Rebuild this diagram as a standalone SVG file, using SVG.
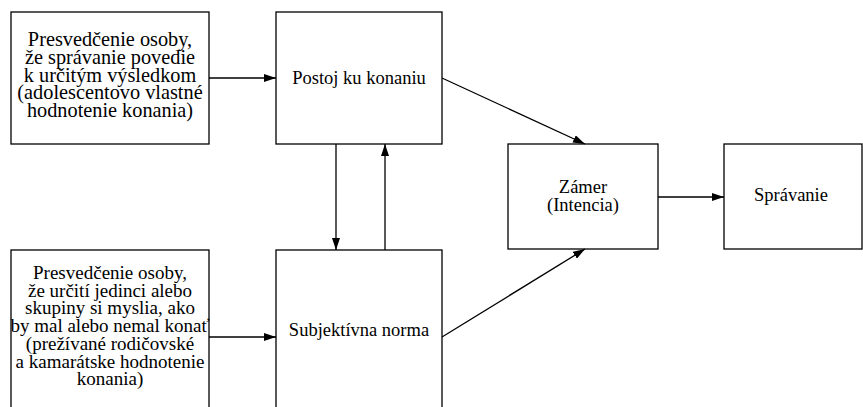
<svg xmlns="http://www.w3.org/2000/svg" width="863" height="407" viewBox="0 0 863 407">
<style>
.box{fill:#fff;stroke:#000;stroke-width:1.3}
.t{font-family:"Liberation Serif","Times New Roman",serif;font-size:18.5px;fill:#000;text-anchor:middle}
.ta{font-size:20.3px}
.tb{font-size:19px}
.c{stroke:#000;stroke-width:1.3;fill:none;marker-end:url(#ah)}
</style>
<defs>
<marker id="ah" viewBox="0 0 12 8" refX="12" refY="4" markerWidth="12" markerHeight="8" markerUnits="userSpaceOnUse" orient="auto">
<path d="M0,0 L12,4 L0,8 Z" fill="#000"/>
</marker>
</defs>
<rect width="863" height="407" fill="#fff"/>
<g id="belief-attitude">
<rect class="box" x="11" y="12" width="198" height="132"/>
<text class="t ta"><tspan x="110" y="46">Presvedčenie osoby,</tspan><tspan x="110" y="63.8">že správanie povedie</tspan><tspan x="110" y="81.6">k určitým výsledkom</tspan><tspan x="110" y="99.4">(adolescentovo vlastné</tspan><tspan x="110" y="117.2">hodnotenie konania)</tspan></text>
</g>
<g id="belief-norm">
<rect class="box" x="11" y="250" width="198" height="170"/>
<text class="t tb"><tspan x="110" y="279">Presvedčenie osoby,</tspan><tspan x="110" y="296.7">že určití jedinci alebo</tspan><tspan x="110" y="314.4">skupiny si myslia, ako</tspan><tspan x="110" y="332.1">by mal alebo nemal konať</tspan><tspan x="110" y="349.8">(prežívané rodičovské</tspan><tspan x="110" y="367.5">a kamarátske hodnotenie</tspan><tspan x="110" y="385.2">konania)</tspan></text>
</g>
<g id="attitude">
<rect class="box" x="276" y="12" width="166" height="132"/>
<text class="t" x="359" y="84">Postoj ku konaniu</text>
</g>
<g id="norm">
<rect class="box" x="276" y="250" width="166" height="170"/>
<text class="t" x="359" y="336">Subjektívna norma</text>
</g>
<g id="intention">
<rect class="box" x="508" y="144" width="150" height="105"/>
<text class="t"><tspan x="583" y="193">Zámer</tspan><tspan x="583" y="211">(Intencia)</tspan></text>
</g>
<g id="behavior">
<rect class="box" x="724" y="144" width="138" height="105"/>
<text class="t" x="791" y="201">Správanie</text>
</g>
<g id="connectors">
<line class="c" x1="209" y1="78" x2="276" y2="78"/>
<line class="c" x1="209" y1="337" x2="276" y2="337"/>
<line class="c" x1="336" y1="144" x2="336" y2="250"/>
<line class="c" x1="385" y1="250" x2="385" y2="144"/>
<line class="c" x1="442" y1="78" x2="585" y2="144"/>
<line class="c" x1="442" y1="337" x2="585" y2="249"/>
<line class="c" x1="658" y1="197" x2="724" y2="197"/>
</g>
</svg>
